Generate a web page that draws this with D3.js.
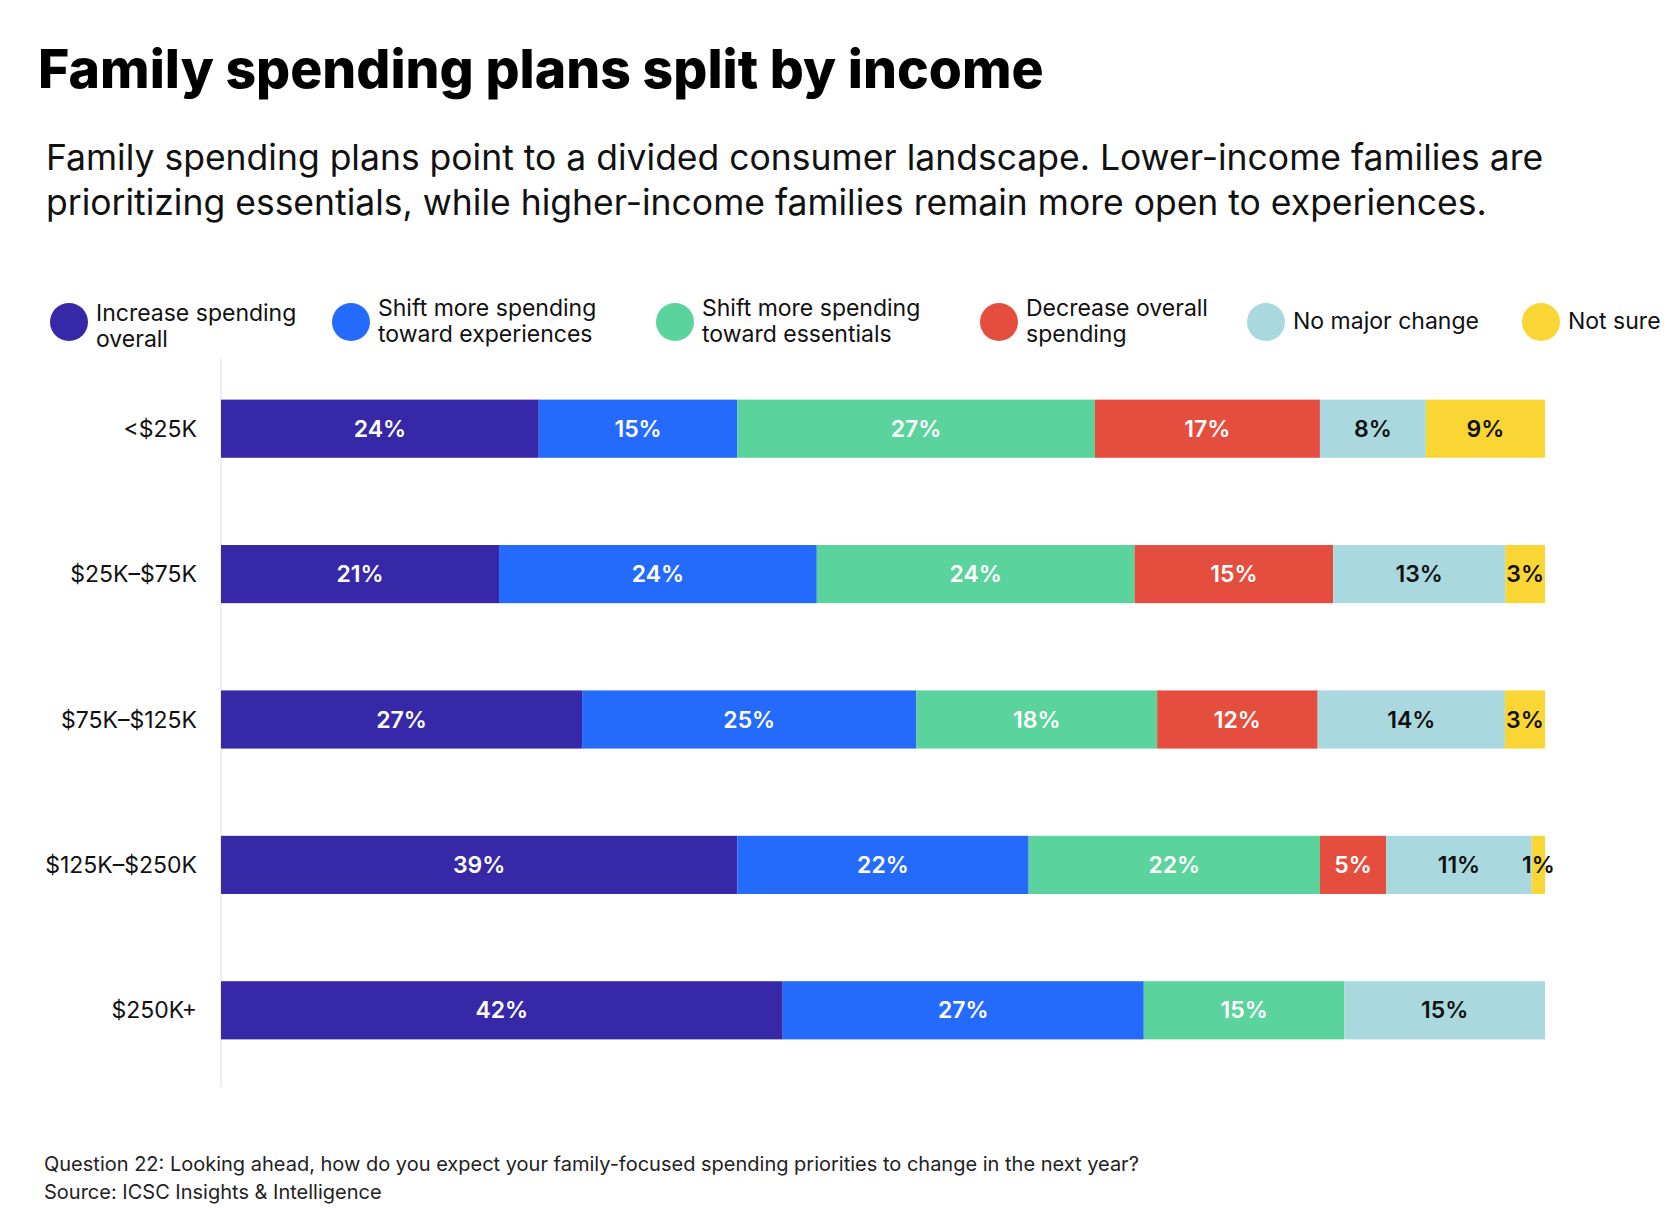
<!DOCTYPE html>
<html><head><meta charset="utf-8">
<script src="https://cdn.jsdelivr.net/npm/d3@7"></script>
<style>body{margin:0;background:#fff}text{font-family:Inter,"Open Sans",sans-serif}</style>
</head><body><svg id="c" width="1679" height="1208"></svg>
<script>
const categories = ["<$25K", "$25K–$75K", "$75K–$125K", "$125K–$250K", "$250K+"];
const legendLines = [["Increase spending", "overall"], ["Shift more spending", "toward experiences"], ["Shift more spending", "toward essentials"], ["Decrease overall", "spending"], ["No major change"], ["Not sure"]];
const increase = [24, 21, 27, 39, 42];
const experiences = [15, 24, 25, 22, 27];
const essentials = [27, 24, 18, 22, 15];
const decrease = [17, 15, 12, 5, 0];
const noChange = [8, 13, 14, 11, 15];
const notSure = [9, 3, 3, 1, 0];
const colors = ["#3728a8", "#246bfd", "#5ad39c", "#e54e3e", "#a9d9de", "#fad634"];
const labelColors = ["#fff", "#fff", "#fff", "#fff", "#111", "#111"];

const series = [increase, experiences, essentials, decrease, noChange, notSure];
const svg = d3.select("#c");

svg.append("text").attr("x", 38).attr("y", 88).attr("font-size", 53.5).attr("font-weight", 800).attr("fill", "#000")
  .text("Family spending plans split by income");
svg.append("text").attr("x", 46).attr("y", 170).attr("font-size", 35.5).attr("fill", "#111")
  .text("Family spending plans point to a divided consumer landscape. Lower-income families are");
svg.append("text").attr("x", 46).attr("y", 215).attr("font-size", 35.5).attr("fill", "#111")
  .text("prioritizing essentials, while higher-income families remain more open to experiences.");

// legend
const legX = [69, 351, 675, 999, 1266, 1541];
legendLines.forEach((lines, i) => {
  const g = svg.append("g");
  g.append("circle").attr("cx", legX[i]).attr("cy", 322).attr("r", 19).attr("fill", colors[i]);
  lines.forEach((l, j) => {
    g.append("text").attr("x", legX[i] + 27).attr("y", lines.length === 1 ? 329 : 316 + j * 26 - (i === 0 ? -5 : 0))
      .attr("font-size", 23).attr("fill", "#111").text(l);
  });
});

const x = d3.scaleLinear().domain([0, 1]).range([221, 1545]);
const y = d3.scaleBand().domain(categories).range([356, 1083]).paddingInner(0.6).paddingOuter(0.3);

svg.append("line").attr("x1", 221).attr("x2", 221).attr("y1", 358).attr("y2", 1087).attr("stroke", "#ddd");

categories.forEach((c, r) => {
  const vals = series.map(s => s[r]);
  const total = d3.sum(vals);
  let acc = 0;
  vals.forEach((v, i) => {
    if (!v) return;
    const x0 = x(acc / total), x1 = x((acc + v) / total);
    acc += v;
    svg.append("rect").attr("x", x0).attr("y", y(c)).attr("width", x1 - x0).attr("height", y.bandwidth()).attr("fill", colors[i]);
    svg.append("text").attr("x", (x0 + x1) / 2).attr("y", y(c) + y.bandwidth() / 2 + 8)
      .attr("text-anchor", "middle").attr("font-size", 23).attr("font-weight", 600)
      .attr("fill", labelColors[i]).text(v + "%");
  });
  svg.append("text").attr("x", 197).attr("y", y(c) + y.bandwidth() / 2 + 8).attr("text-anchor", "end")
    .attr("font-size", 23).attr("fill", "#111").text(c);
});

svg.append("text").attr("x", 44).attr("y", 1171).attr("font-size", 20).attr("fill", "#222")
  .text("Question 22: Looking ahead, how do you expect your family-focused spending priorities to change in the next year?");
svg.append("text").attr("x", 44).attr("y", 1199).attr("font-size", 20).attr("fill", "#222")
  .text("Source: ICSC Insights & Intelligence");
</script></body></html>
